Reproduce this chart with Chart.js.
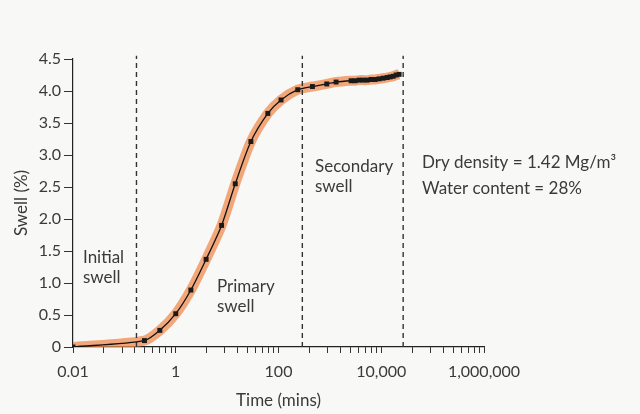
<!DOCTYPE html>
<html>
<head>
<meta charset="utf-8">
<script src="https://cdn.jsdelivr.net/npm/chart.js@4/dist/chart.umd.min.js"></script>
<style>
  html, body { margin: 0; padding: 0; background: #f8f8f6; }
  #wrap { width: 640px; height: 414px; position: relative; }
</style>
</head>
<body>
<div id="wrap"><canvas id="swellChart" width="640" height="414"></canvas></div>
<script>
// data
const timeMins = [0.01, 0.246, 0.49, 1.0, 1.97, 3.9, 7.8, 14.4, 29, 62, 112, 237, 457, 870, 1320,
    2590, 3100, 3710, 4440, 5310, 6350, 7600, 9100, 10900, 13000, 14900, 17100, 19500, 22300];
const swellPct = [0, 0.10, 0.26, 0.52, 0.89, 1.37, 1.90, 2.55, 3.21, 3.65, 3.86, 4.02, 4.07, 4.11, 4.14,
    4.16, 4.16, 4.17, 4.17, 4.17, 4.18, 4.18, 4.19, 4.20, 4.21, 4.22, 4.23, 4.25, 4.26];
const phaseBounds = [0.172, 291, 26700];
const majorTimes = [0.01, 1, 100, 10000, 1000000];
const majorLabels = ['0.01', '1', '100', '10,000', '1,000,000'];
const swellTicks = [0, 0.5, 1, 1.5, 2, 2.5, 3, 3.5, 4, 4.5];

const FONT = "Lato, 'Open Sans', sans-serif";
const INK = '#3a3a3a';

const curve = timeMins.map((t, i) => ({ x: t, y: swellPct[i] }));

const datasets = [
    {   // orange highlight band behind the curve
        data: curve, showLine: true, borderColor: 'rgba(240,140,80,0.75)', borderWidth: 10,
        pointRadius: 0, tension: 0.25, order: 3
    },
    {
        data: curve, showLine: true, borderColor: '#111', borderWidth: 1.3,
        pointStyle: 'rect', pointRadius: 3.5, pointBackgroundColor: '#1a1a1a', pointBorderWidth: 0,
        tension: 0.25, order: 1
    }
];
phaseBounds.forEach(b => datasets.push({
    data: [{ x: b, y: 0 }, { x: b, y: 4.55 }], showLine: true, borderColor: '#333',
    borderWidth: 1.4, borderDash: [5, 4], pointRadius: 0, clip: false, order: 2
}));

const notes = [
    { lines: ['Initial', 'swell'], x: 83, y: 258 },
    { lines: ['Primary', 'swell'], x: 217, y: 287 },
    { lines: ['Secondary', 'swell'], x: 315, y: 167 },
    { lines: ['Dry density = 1.42 Mg/m³', 'Water content = 28%'], x: 422, y: 163, gap: 26 }
];

const notesPlugin = {
    id: 'notes',
    afterDraw(chart) {
        const ctx = chart.ctx;
        ctx.save();
        ctx.fillStyle = INK;
        ctx.font = '17px ' + FONT;
        ctx.textBaseline = 'middle';
        notes.forEach(n => {
            n.lines.forEach((l, i) => ctx.fillText(l, n.x, n.y + i * (n.gap || 20)));
        });
        ctx.restore();
    }
};

new Chart(document.getElementById('swellChart'), {
    type: 'scatter',
    data: { datasets },
    plugins: [notesPlugin],
    options: {
        responsive: false,
        animation: false,
        layout: { padding: { top: 59, right: 156, bottom: 0, left: 0 } },
        plugins: { legend: { display: false }, tooltip: { enabled: false } },
        scales: {
            x: {
                type: 'logarithmic', min: 0.01, max: 1000000,
                afterBuildTicks(scale) {
                    const t = [];
                    majorTimes.slice(0, -1).forEach(m => {
                        for (let k = 1; k <= 9; k++) t.push({ value: m * k * k });
                    });
                    t.push({ value: 1000000 });
                    scale.ticks = t;
                },
                afterFit(scale) { scale.height = 67; },
                ticks: {
                    autoSkip: false, maxRotation: 0, padding: 9, color: INK,
                    font: { family: FONT, size: 16 },
                    callback: v => {
                        const i = majorTimes.indexOf(v);
                        return i >= 0 ? majorLabels[i] : '';
                    }
                },
                grid: { drawOnChartArea: false, tickLength: 6, color: '#333' },
                border: { color: '#222', width: 1.2 },
                title: {
                    display: true, text: 'Time (mins)', color: INK,
                    font: { family: FONT, size: 17 }, padding: { top: 0, bottom: 3 }
                }
            },
            y: {
                min: 0, max: 4.5,
                afterBuildTicks(scale) { scale.ticks = swellTicks.map(v => ({ value: v })); },
                afterFit(scale) { scale.width = 73; },
                ticks: {
                    padding: 3, color: INK, font: { family: FONT, size: 16 },
                    callback: v => v === 0 ? '0' : v.toFixed(1)
                },
                grid: { drawOnChartArea: false, tickLength: 9, color: '#333' },
                border: { color: '#222', width: 1.2 },
                title: {
                    display: true, text: 'Swell (%)', color: INK,
                    font: { family: FONT, size: 17 }, padding: { top: 11, bottom: 0 }
                }
            }
        }
    }
});
</script>
</body>
</html>
